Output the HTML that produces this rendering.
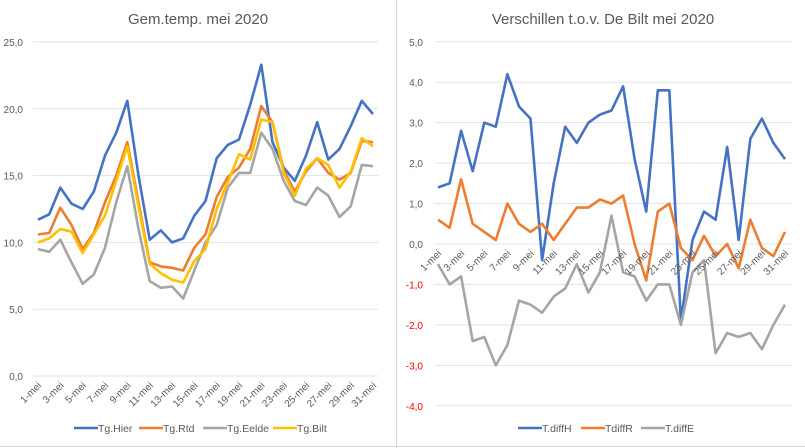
<!DOCTYPE html>
<html><head><meta charset="utf-8"><style>
html,body{margin:0;padding:0;background:#fff;}
svg{display:block;font-family:"Liberation Sans",sans-serif;}
</style></head><body>
<svg id="s" width="805" height="448" viewBox="0 0 805 448" xmlns="http://www.w3.org/2000/svg">
<rect width="805" height="448" fill="#fff"/>
<line x1="396.5" y1="0" x2="396.5" y2="448" stroke="#d9d9d9"/>
<line x1="0" y1="446.5" x2="805" y2="446.5" stroke="#d9d9d9"/>
<text x="198" y="24" text-anchor="middle" font-size="15" fill="#595959">Gem.temp. mei 2020</text>
<text x="603" y="24" text-anchor="middle" font-size="15" fill="#595959">Verschillen t.o.v. De Bilt mei 2020</text>
<g id="g"></g>
</svg>
<script>
const NS="http://www.w3.org/2000/svg",g=document.getElementById('g');
function el(t,a,txt){const e=document.createElementNS(NS,t);for(const k in a)e.setAttribute(k,a[k]);if(txt!=null)e.textContent=txt;g.appendChild(e);return e;}
// left chart
const L={x0:38,dx:335/30,y0:376,py:13.36};
for(let v=0;v<=25;v+=5){const y=L.y0-v*L.py;el('line',{x1:33,x2:378,y1:y,y2:y,stroke:'#e3e3e3','stroke-width':1});
el('text',{x:23,y:y+4,'text-anchor':'end','font-size':10,fill:'#595959'},v.toFixed(1).replace('.',','));}
for(let i=0;i<=15;i++){const x=L.x0+i*2*L.dx;el('text',{x:x+4,y:386,'text-anchor':'end','font-size':10,fill:'#595959',transform:`rotate(-45 ${x+4} 386)`},(2*i+1)+'-mei');}
const left=[
['#4472c4',[11.7,12.1,14.1,12.9,12.5,13.8,16.5,18.2,20.6,15.0,10.2,10.9,10.0,10.3,12.0,13.1,16.3,17.3,17.7,20.3,23.3,17.5,15.6,14.6,16.5,19.0,16.2,17.0,18.7,20.6,19.6]],
['#ed7d31',[10.6,10.7,12.6,11.3,9.5,10.7,13.0,15.0,17.5,13.0,8.5,8.2,8.1,7.9,9.6,10.6,13.4,14.9,15.6,17.0,20.2,19.0,15.4,13.8,15.3,16.3,15.2,14.7,15.2,17.6,17.5]],
['#a5a5a5',[9.5,9.3,10.2,8.5,6.9,7.6,9.6,13.0,15.7,11.0,7.1,6.6,6.7,5.8,7.9,10.0,11.3,14.1,15.2,15.2,18.2,17.0,14.6,13.1,12.8,14.1,13.5,11.9,12.7,15.8,15.7]],
['#ffc000',[10.0,10.3,11.0,10.8,9.2,10.6,12.0,14.6,17.2,12.7,8.4,7.7,7.2,7.0,8.6,9.5,12.5,14.5,16.6,16.2,19.2,19.0,15.2,13.5,15.5,16.3,15.8,14.1,15.3,17.8,17.2]]];
for(const [c,d] of left)el('polyline',{points:d.map((v,i)=>(L.x0+i*L.dx).toFixed(1)+','+(L.y0-v*L.py).toFixed(1)).join(' '),fill:'none',stroke:c,'stroke-width':2.6,'stroke-linejoin':'round'});
const ll=[['Tg.Hier','#4472c4',74],['Tg.Rtd','#ed7d31',139],['Tg.Eelde','#a5a5a5',203],['Tg.Bilt','#ffc000',273]];
for(const [t,c,x] of ll){el('line',{x1:x,x2:x+24,y1:428,y2:428,stroke:c,'stroke-width':2.6});el('text',{x:x+24,y:432,'font-size':10.5,fill:'#595959'},t);}
// right chart
const R={x0:438,dx:347/30,y0:244,py:40.44};
for(let v=-4;v<=5;v++){const y=R.y0-v*R.py;el('line',{x1:435,x2:792,y1:y,y2:y,stroke:'#e3e3e3','stroke-width':1});
el('text',{x:423,y:y+4,'text-anchor':'end','font-size':10,fill:v<0?'#ff0000':'#595959'},v.toFixed(1).replace('.',','));}
const right=[
['#4472c4',[1.4,1.5,2.8,1.8,3.0,2.9,4.2,3.4,3.1,-0.4,1.5,2.9,2.5,3.0,3.2,3.3,3.9,2.1,0.8,3.8,3.8,-1.9,0.1,0.8,0.6,2.4,0.1,2.6,3.1,2.5,2.1]],
['#ed7d31',[0.6,0.4,1.6,0.5,0.3,0.1,1.0,0.5,0.3,0.5,0.1,0.5,0.9,0.9,1.1,1.0,1.2,0.0,-0.9,0.8,1.0,-0.1,-0.4,0.2,-0.3,0.0,-0.6,0.6,-0.1,-0.3,0.3]],
['#a5a5a5',[-0.5,-1.0,-0.8,-2.4,-2.3,-3.0,-2.5,-1.4,-1.5,-1.7,-1.3,-1.1,-0.5,-1.2,-0.7,0.7,-0.7,-0.8,-1.4,-1.0,-1.0,-2.0,-0.7,-0.4,-2.7,-2.2,-2.3,-2.2,-2.6,-2.0,-1.5]]];
for(const [c,d] of right)el('polyline',{points:d.map((v,i)=>(R.x0+i*R.dx).toFixed(1)+','+(R.y0-v*R.py).toFixed(1)).join(' '),fill:'none',stroke:c,'stroke-width':2.6,'stroke-linejoin':'round'});
for(let i=0;i<=15;i++){const x=R.x0+i*2*R.dx;el('text',{x:x+4,y:254,'text-anchor':'end','font-size':10,fill:'#595959',transform:`rotate(-45 ${x+4} 254)`},(2*i+1)+'-mei');}
const rl=[['T.diffH','#4472c4',518],['TdiffR','#ed7d31',581],['T.diffE','#a5a5a5',641]];
for(const [t,c,x] of rl){el('line',{x1:x,x2:x+24,y1:428,y2:428,stroke:c,'stroke-width':2.6});el('text',{x:x+24,y:432,'font-size':10.5,fill:'#595959'},t);}
</script>
</body></html>
